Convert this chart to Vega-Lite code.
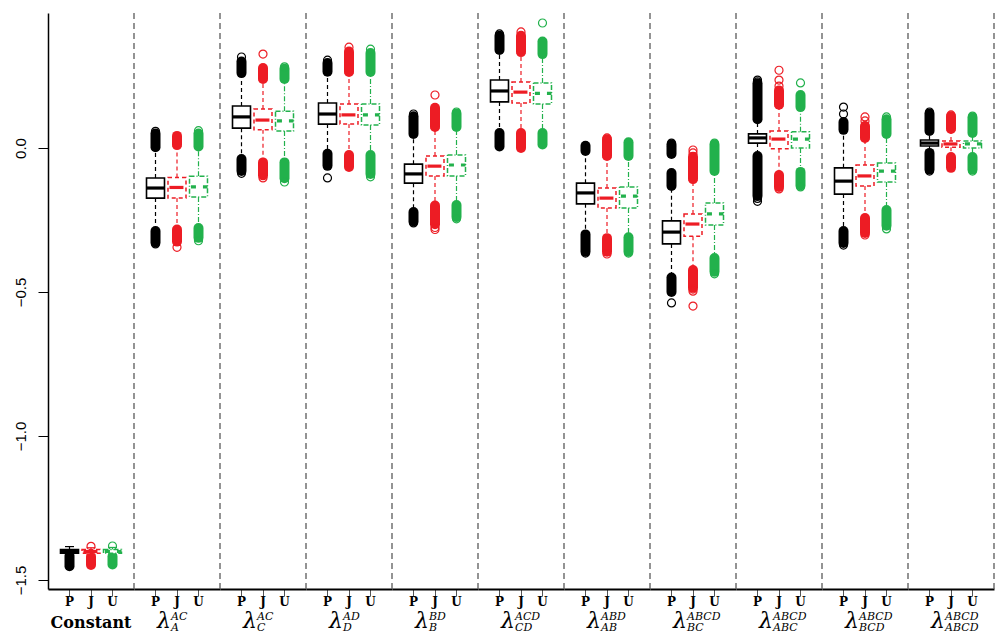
{
  "$schema": "https://vega.github.io/schema/vega-lite/v6.json",
  "background": "white",
  "padding": {"left": 13, "top": 12, "right": 0, "bottom": 0},
  "data": {"values": [
    {"k":"n","g":"Constant","name":"Constant"},
    {"k":"l","g":"A|AC","sup":"AC","sub":"A"},
    {"k":"l","g":"C|AC","sup":"AC","sub":"C"},
    {"k":"l","g":"D|AD","sup":"AD","sub":"D"},
    {"k":"l","g":"B|BD","sup":"BD","sub":"B"},
    {"k":"l","g":"CD|ACD","sup":"ACD","sub":"CD"},
    {"k":"l","g":"AB|ABD","sup":"ABD","sub":"AB"},
    {"k":"l","g":"BC|ABCD","sup":"ABCD","sub":"BC"},
    {"k":"l","g":"ABC|ABCD","sup":"ABCD","sub":"ABC"},
    {"k":"l","g":"BCD|ABCD","sup":"ABCD","sub":"BCD"},
    {"k":"l","g":"ABCD|ABCD","sup":"ABCD","sub":"ABCD"},

    {"k":"b","g":"Constant","m":"P","q1":-1.407,"med":-1.401,"q3":-1.394,"lo":-1.412,"hi":-1.384},
    {"k":"b","g":"Constant","m":"J","q1":-1.407,"med":-1.401,"q3":-1.394,"lo":-1.412,"hi":-1.388},
    {"k":"b","g":"Constant","m":"U","q1":-1.407,"med":-1.401,"q3":-1.394,"lo":-1.412,"hi":-1.387},
    {"k":"r","g":"Constant","m":"P","a":-1.416,"b":-1.452},
    {"k":"r","g":"Constant","m":"J","a":-1.418,"b":-1.448},
    {"k":"r","g":"Constant","m":"U","a":-1.418,"b":-1.446},
    {"k":"p","g":"Constant","m":"J","v":-1.383},
    {"k":"p","g":"Constant","m":"U","v":-1.382},

    {"k":"b","g":"A|AC","m":"P","q1":-0.174,"med":-0.139,"q3":-0.104,"lo":-0.283,"hi":-0.002},
    {"k":"b","g":"A|AC","m":"J","q1":-0.174,"med":-0.137,"q3":-0.102,"lo":-0.278,"hi":0.006},
    {"k":"b","g":"A|AC","m":"U","q1":-0.170,"med":-0.135,"q3":-0.098,"lo":-0.274,"hi":0.001},
    {"k":"r","g":"A|AC","m":"P","a":0.003,"b":0.05},
    {"k":"r","g":"A|AC","m":"P","a":-0.288,"b":-0.328},
    {"k":"r","g":"A|AC","m":"J","a":0.01,"b":0.042},
    {"k":"r","g":"A|AC","m":"J","a":-0.283,"b":-0.325},
    {"k":"r","g":"A|AC","m":"U","a":0.005,"b":0.05},
    {"k":"r","g":"A|AC","m":"U","a":-0.278,"b":-0.312},
    {"k":"p","g":"A|AC","m":"P","v":0.058},
    {"k":"p","g":"A|AC","m":"P","v":-0.333},
    {"k":"p","g":"A|AC","m":"J","v":-0.345},
    {"k":"p","g":"A|AC","m":"U","v":0.06},
    {"k":"p","g":"A|AC","m":"U","v":-0.322},

    {"k":"b","g":"C|AC","m":"P","q1":0.069,"med":0.108,"q3":0.146,"lo":-0.034,"hi":0.256},
    {"k":"b","g":"C|AC","m":"J","q1":0.063,"med":0.097,"q3":0.135,"lo":-0.046,"hi":0.236},
    {"k":"b","g":"C|AC","m":"U","q1":0.059,"med":0.094,"q3":0.128,"lo":-0.046,"hi":0.236},
    {"k":"r","g":"C|AC","m":"P","a":0.26,"b":0.30},
    {"k":"r","g":"C|AC","m":"P","a":-0.038,"b":-0.08},
    {"k":"r","g":"C|AC","m":"J","a":0.24,"b":0.278},
    {"k":"r","g":"C|AC","m":"J","a":-0.05,"b":-0.095},
    {"k":"r","g":"C|AC","m":"U","a":0.24,"b":0.275},
    {"k":"r","g":"C|AC","m":"U","a":-0.05,"b":-0.105},
    {"k":"p","g":"C|AC","m":"P","v":0.316},
    {"k":"p","g":"C|AC","m":"P","v":-0.088},
    {"k":"p","g":"C|AC","m":"J","v":0.326},
    {"k":"p","g":"C|AC","m":"J","v":-0.104},
    {"k":"p","g":"C|AC","m":"U","v":0.282},
    {"k":"p","g":"C|AC","m":"U","v":-0.118},

    {"k":"b","g":"D|AD","m":"P","q1":0.083,"med":0.118,"q3":0.156,"lo":-0.016,"hi":0.261},
    {"k":"b","g":"D|AD","m":"J","q1":0.083,"med":0.115,"q3":0.153,"lo":-0.02,"hi":0.26},
    {"k":"b","g":"D|AD","m":"U","q1":0.080,"med":0.115,"q3":0.153,"lo":-0.02,"hi":0.26},
    {"k":"r","g":"D|AD","m":"P","a":0.265,"b":0.295},
    {"k":"r","g":"D|AD","m":"P","a":-0.02,"b":-0.062},
    {"k":"r","g":"D|AD","m":"J","a":0.264,"b":0.335},
    {"k":"r","g":"D|AD","m":"J","a":-0.024,"b":-0.066},
    {"k":"r","g":"D|AD","m":"U","a":0.264,"b":0.33},
    {"k":"r","g":"D|AD","m":"U","a":-0.024,"b":-0.09},
    {"k":"p","g":"D|AD","m":"P","v":0.305},
    {"k":"p","g":"D|AD","m":"P","v":-0.104},
    {"k":"p","g":"D|AD","m":"J","v":0.35},
    {"k":"p","g":"D|AD","m":"U","v":0.343},
    {"k":"p","g":"D|AD","m":"U","v":-0.1},

    {"k":"b","g":"B|BD","m":"P","q1":-0.122,"med":-0.090,"q3":-0.056,"lo":-0.218,"hi":0.045},
    {"k":"b","g":"B|BD","m":"J","q1":-0.097,"med":-0.063,"q3":-0.028,"lo":-0.196,"hi":0.069},
    {"k":"b","g":"B|BD","m":"U","q1":-0.097,"med":-0.059,"q3":-0.024,"lo":-0.194,"hi":0.069},
    {"k":"r","g":"B|BD","m":"P","a":0.049,"b":0.11},
    {"k":"r","g":"B|BD","m":"P","a":-0.222,"b":-0.255},
    {"k":"r","g":"B|BD","m":"J","a":0.073,"b":0.14},
    {"k":"r","g":"B|BD","m":"J","a":-0.2,"b":-0.265},
    {"k":"r","g":"B|BD","m":"U","a":0.073,"b":0.12},
    {"k":"r","g":"B|BD","m":"U","a":-0.198,"b":-0.24},
    {"k":"p","g":"B|BD","m":"P","v":0.118},
    {"k":"p","g":"B|BD","m":"P","v":-0.26},
    {"k":"p","g":"B|BD","m":"J","v":0.184},
    {"k":"p","g":"B|BD","m":"J","v":-0.276},
    {"k":"p","g":"B|BD","m":"J","v":-0.283},
    {"k":"p","g":"B|BD","m":"U","v":0.125},
    {"k":"p","g":"B|BD","m":"U","v":-0.246},

    {"k":"b","g":"CD|ACD","m":"P","q1":0.160,"med":0.198,"q3":0.236,"lo":0.056,"hi":0.336},
    {"k":"b","g":"CD|ACD","m":"J","q1":0.156,"med":0.194,"q3":0.229,"lo":0.056,"hi":0.329},
    {"k":"b","g":"CD|ACD","m":"U","q1":0.153,"med":0.190,"q3":0.226,"lo":0.056,"hi":0.322},
    {"k":"r","g":"CD|ACD","m":"P","a":0.34,"b":0.39},
    {"k":"r","g":"CD|ACD","m":"P","a":0.052,"b":0.005},
    {"k":"r","g":"CD|ACD","m":"J","a":0.333,"b":0.39},
    {"k":"r","g":"CD|ACD","m":"J","a":0.052,"b":0.0},
    {"k":"r","g":"CD|ACD","m":"U","a":0.326,"b":0.37},
    {"k":"r","g":"CD|ACD","m":"U","a":0.052,"b":0.012},
    {"k":"p","g":"CD|ACD","m":"P","v":0.396},
    {"k":"p","g":"CD|ACD","m":"J","v":0.403},
    {"k":"p","g":"CD|ACD","m":"U","v":0.434},

    {"k":"b","g":"AB|ABD","m":"P","q1":-0.194,"med":-0.156,"q3":-0.122,"lo":-0.296,"hi":-0.014},
    {"k":"b","g":"AB|ABD","m":"J","q1":-0.208,"med":-0.174,"q3":-0.139,"lo":-0.309,"hi":-0.032},
    {"k":"b","g":"AB|ABD","m":"U","q1":-0.208,"med":-0.167,"q3":-0.135,"lo":-0.306,"hi":-0.032},
    {"k":"r","g":"AB|ABD","m":"P","a":-0.01,"b":0.008},
    {"k":"r","g":"AB|ABD","m":"P","a":-0.3,"b":-0.36},
    {"k":"r","g":"AB|ABD","m":"J","a":-0.028,"b":0.03},
    {"k":"r","g":"AB|ABD","m":"J","a":-0.313,"b":-0.36},
    {"k":"r","g":"AB|ABD","m":"U","a":-0.028,"b":0.02},
    {"k":"r","g":"AB|ABD","m":"U","a":-0.31,"b":-0.36},
    {"k":"p","g":"AB|ABD","m":"P","v":-0.365},
    {"k":"p","g":"AB|ABD","m":"J","v":0.035},
    {"k":"p","g":"AB|ABD","m":"J","v":-0.368},
    {"k":"p","g":"AB|ABD","m":"U","v":-0.365},

    {"k":"b","g":"BC|ABCD","m":"P","q1":-0.333,"med":-0.292,"q3":-0.253,"lo":-0.446,"hi":-0.136},
    {"k":"b","g":"BC|ABCD","m":"J","q1":-0.306,"med":-0.264,"q3":-0.229,"lo":-0.42,"hi":-0.112},
    {"k":"b","g":"BC|ABCD","m":"U","q1":-0.267,"med":-0.229,"q3":-0.191,"lo":-0.378,"hi":-0.084},
    {"k":"r","g":"BC|ABCD","m":"P","a":-0.132,"b":-0.087},
    {"k":"r","g":"BC|ABCD","m":"P","a":-0.021,"b":0.012},
    {"k":"r","g":"BC|ABCD","m":"P","a":-0.45,"b":-0.5},
    {"k":"r","g":"BC|ABCD","m":"J","a":-0.108,"b":-0.03},
    {"k":"r","g":"BC|ABCD","m":"J","a":-0.424,"b":-0.485},
    {"k":"r","g":"BC|ABCD","m":"U","a":-0.08,"b":0.012},
    {"k":"r","g":"BC|ABCD","m":"U","a":-0.382,"b":-0.43},
    {"k":"p","g":"BC|ABCD","m":"P","v":0.017},
    {"k":"p","g":"BC|ABCD","m":"P","v":0.005},
    {"k":"p","g":"BC|ABCD","m":"P","v":-0.538},
    {"k":"p","g":"BC|ABCD","m":"J","v":-0.007},
    {"k":"p","g":"BC|ABCD","m":"J","v":-0.017},
    {"k":"p","g":"BC|ABCD","m":"J","v":-0.49},
    {"k":"p","g":"BC|ABCD","m":"J","v":-0.497},
    {"k":"p","g":"BC|ABCD","m":"J","v":-0.549},
    {"k":"p","g":"BC|ABCD","m":"U","v":0.017},
    {"k":"p","g":"BC|ABCD","m":"U","v":-0.437},

    {"k":"b","g":"ABC|ABCD","m":"P","q1":0.017,"med":0.035,"q3":0.049,"lo":-0.024,"hi":0.096},
    {"k":"b","g":"ABC|ABCD","m":"J","q1":-0.003,"med":0.031,"q3":0.059,"lo":-0.09,"hi":0.146},
    {"k":"b","g":"ABC|ABCD","m":"U","q1":0.000,"med":0.031,"q3":0.056,"lo":-0.079,"hi":0.138},
    {"k":"r","g":"ABC|ABCD","m":"P","a":0.1,"b":0.225},
    {"k":"r","g":"ABC|ABCD","m":"P","a":-0.028,"b":-0.167},
    {"k":"r","g":"ABC|ABCD","m":"J","a":0.15,"b":0.2},
    {"k":"r","g":"ABC|ABCD","m":"J","a":-0.094,"b":-0.135},
    {"k":"r","g":"ABC|ABCD","m":"U","a":0.142,"b":0.184},
    {"k":"r","g":"ABC|ABCD","m":"U","a":-0.083,"b":-0.13},
    {"k":"p","g":"ABC|ABCD","m":"P","v":0.236},
    {"k":"p","g":"ABC|ABCD","m":"P","v":0.23},
    {"k":"p","g":"ABC|ABCD","m":"P","v":-0.175},
    {"k":"p","g":"ABC|ABCD","m":"P","v":-0.185},
    {"k":"p","g":"ABC|ABCD","m":"J","v":0.215},
    {"k":"p","g":"ABC|ABCD","m":"J","v":0.236},
    {"k":"p","g":"ABC|ABCD","m":"J","v":0.27},
    {"k":"p","g":"ABC|ABCD","m":"J","v":-0.142},
    {"k":"p","g":"ABC|ABCD","m":"U","v":0.226},
    {"k":"p","g":"ABC|ABCD","m":"U","v":-0.135},

    {"k":"b","g":"BCD|ABCD","m":"P","q1":-0.160,"med":-0.115,"q3":-0.069,"lo":-0.284,"hi":0.059},
    {"k":"b","g":"BCD|ABCD","m":"J","q1":-0.132,"med":-0.097,"q3":-0.059,"lo":-0.239,"hi":0.031},
    {"k":"b","g":"BCD|ABCD","m":"U","q1":-0.118,"med":-0.080,"q3":-0.052,"lo":-0.211,"hi":0.045},
    {"k":"r","g":"BCD|ABCD","m":"P","a":0.063,"b":0.09},
    {"k":"r","g":"BCD|ABCD","m":"P","a":-0.288,"b":-0.33},
    {"k":"r","g":"BCD|ABCD","m":"J","a":0.035,"b":0.076},
    {"k":"r","g":"BCD|ABCD","m":"J","a":-0.243,"b":-0.295},
    {"k":"r","g":"BCD|ABCD","m":"U","a":0.049,"b":0.1},
    {"k":"r","g":"BCD|ABCD","m":"U","a":-0.215,"b":-0.27},
    {"k":"p","g":"BCD|ABCD","m":"P","v":0.118},
    {"k":"p","g":"BCD|ABCD","m":"P","v":0.142},
    {"k":"p","g":"BCD|ABCD","m":"P","v":-0.337},
    {"k":"p","g":"BCD|ABCD","m":"J","v":0.094},
    {"k":"p","g":"BCD|ABCD","m":"J","v":0.108},
    {"k":"p","g":"BCD|ABCD","m":"J","v":-0.302},
    {"k":"p","g":"BCD|ABCD","m":"U","v":0.108},
    {"k":"p","g":"BCD|ABCD","m":"U","v":-0.281},

    {"k":"b","g":"ABCD|ABCD","m":"P","q1":0.007,"med":0.017,"q3":0.028,"lo":-0.013,"hi":0.055},
    {"k":"b","g":"ABCD|ABCD","m":"J","q1":0.003,"med":0.014,"q3":0.024,"lo":-0.027,"hi":0.062},
    {"k":"b","g":"ABCD|ABCD","m":"U","q1":0.000,"med":0.014,"q3":0.024,"lo":-0.027,"hi":0.048},
    {"k":"r","g":"ABCD|ABCD","m":"P","a":0.059,"b":0.12},
    {"k":"r","g":"ABCD|ABCD","m":"P","a":-0.017,"b":-0.075},
    {"k":"r","g":"ABCD|ABCD","m":"J","a":0.066,"b":0.11},
    {"k":"r","g":"ABCD|ABCD","m":"J","a":-0.031,"b":-0.069},
    {"k":"r","g":"ABCD|ABCD","m":"U","a":0.052,"b":0.106},
    {"k":"r","g":"ABCD|ABCD","m":"U","a":-0.031,"b":-0.075},
    {"k":"p","g":"ABCD|ABCD","m":"P","v":0.125},
    {"k":"p","g":"ABCD|ABCD","m":"P","v":-0.08},
    {"k":"p","g":"ABCD|ABCD","m":"J","v":0.115},
    {"k":"p","g":"ABCD|ABCD","m":"U","v":0.111},
    {"k":"p","g":"ABCD|ABCD","m":"U","v":-0.08}
  ]},
  "facet": {"column": {"field": "g", "type": "nominal",
    "sort": ["Constant","A|AC","C|AC","D|AD","B|BD","CD|ACD","AB|ABD","BC|ABCD","ABC|ABCD","BCD|ABCD","ABCD|ABCD"],
    "header": {"title": null, "labels": false}}},
  "spacing": 0,
  "bounds": "flush",
  "spec": {
    "width": 86,
    "height": 576,
    "layer": [
      {
        "transform": [{"filter": "datum.k === 'b' && datum.m === 'P'"}],
        "mark": {"type": "rule", "strokeDash": [6, 4], "color": "#5a5a5a", "strokeWidth": 1.3},
        "encoding": {"x": {"value": "width"}}
      },
      {
        "transform": [{"filter": "datum.k === 'b'"}],
        "mark": {"type": "rule", "strokeWidth": 1.2},
        "encoding": {
          "x": {"field": "m", "type": "nominal", "bandPosition": 0.5,
                "scale": {"type": "band", "domain": ["P","J","U"], "paddingInner": 0.163, "paddingOuter": 0.5815},
                "axis": {"title": null, "labelAngle": 0, "labelFont": "DejaVu Serif", "labelFontWeight": "bold", "labelFontSize": 12, "labelColor": "black", "tickSize": 7, "tickColor": "#555555", "domainColor": "black", "domainWidth": 2, "labelPadding": 0, "grid": false}},
          "y": {"field": "q3", "type": "quantitative",
                "scale": {"domain": [-1.53125, 0.46875], "nice": false, "zero": false},
                "axis": {"title": null, "values": [-1.5, -1, -0.5, 0], "format": ".1f", "labelAngle": -90, "labelAlign": "center", "labelBaseline": "bottom", "labelFont": "Liberation Sans", "labelFontSize": 15, "labelColor": "black", "tickSize": 10, "tickColor": "black", "domainColor": "black", "domainWidth": 1.5, "labelPadding": 10, "grid": false}},
          "y2": {"field": "hi"},
          "color": {"field": "m", "type": "nominal", "scale": {"domain": ["P","J","U"], "range": ["#000000","#ED1C24","#22B14C"]}, "legend": null},
          "strokeDash": {"field": "m", "type": "nominal", "scale": {"domain": ["P","J","U"], "range": [[4,3],[4,3],[5,2,1,2]]}, "legend": null}
        }
      },
      {
        "transform": [{"filter": "datum.k === 'b'"}],
        "mark": {"type": "rule", "strokeWidth": 1.2},
        "encoding": {
          "x": {"field": "m", "type": "nominal", "bandPosition": 0.5},
          "y": {"field": "q1", "type": "quantitative"},
          "y2": {"field": "lo"},
          "color": {"field": "m", "type": "nominal", "legend": null},
          "strokeDash": {"field": "m", "type": "nominal", "legend": null}
        }
      },
      {
        "transform": [{"filter": "datum.k === 'b'"}],
        "mark": {"type": "rule", "strokeWidth": 1.2},
        "encoding": {
          "x": {"field": "m", "type": "nominal", "bandPosition": 0.25},
          "x2": {"field": "m", "bandPosition": 0.75},
          "y": {"field": "hi", "type": "quantitative"},
          "color": {"field": "m", "type": "nominal", "legend": null}
        }
      },
      {
        "transform": [{"filter": "datum.k === 'r'"}],
        "mark": {"type": "rule", "strokeWidth": 10, "strokeCap": "round"},
        "encoding": {
          "x": {"field": "m", "type": "nominal", "bandPosition": 0.5},
          "y": {"field": "a", "type": "quantitative"},
          "y2": {"field": "b"},
          "color": {"field": "m", "type": "nominal", "legend": null}
        }
      },
      {
        "transform": [{"filter": "datum.k === 'p'"}],
        "mark": {"type": "point", "filled": false, "size": 64, "strokeWidth": 1.2, "opacity": 1},
        "encoding": {
          "x": {"field": "m", "type": "nominal", "bandPosition": 0.5},
          "y": {"field": "v", "type": "quantitative"},
          "color": {"field": "m", "type": "nominal", "legend": null}
        }
      },
      {
        "transform": [{"filter": "datum.k === 'b' && datum.m === 'P'"}],
        "mark": {"type": "bar", "fill": "white", "stroke": "#000000", "strokeWidth": 1.6},
        "encoding": {
          "x": {"field": "m", "type": "nominal"},
          "y": {"field": "q1", "type": "quantitative"},
          "y2": {"field": "q3"}
        }
      },
      {
        "transform": [{"filter": "datum.k === 'b' && datum.m === 'J'"}],
        "mark": {"type": "bar", "fill": "white", "stroke": "#ED1C24", "strokeWidth": 1.5, "strokeDash": [4, 3]},
        "encoding": {
          "x": {"field": "m", "type": "nominal"},
          "y": {"field": "q1", "type": "quantitative"},
          "y2": {"field": "q3"}
        }
      },
      {
        "transform": [{"filter": "datum.k === 'b' && datum.m === 'U'"}],
        "mark": {"type": "bar", "fill": "white", "stroke": "#22B14C", "strokeWidth": 1.5, "strokeDash": [5, 2, 1, 2]},
        "encoding": {
          "x": {"field": "m", "type": "nominal"},
          "y": {"field": "q1", "type": "quantitative"},
          "y2": {"field": "q3"}
        }
      },
      {
        "transform": [{"filter": "datum.k === 'b' && datum.m === 'P'"}],
        "mark": {"type": "rule", "strokeWidth": 3.2, "color": "#000000"},
        "encoding": {
          "x": {"field": "m", "type": "nominal", "bandPosition": 0},
          "x2": {"field": "m", "bandPosition": 1},
          "y": {"field": "med", "type": "quantitative"}
        }
      },
      {
        "transform": [{"filter": "datum.k === 'b' && datum.m === 'J'"}],
        "mark": {"type": "rule", "strokeWidth": 3.2, "color": "#ED1C24", "strokeDash": [14, 6]},
        "encoding": {
          "x": {"field": "m", "type": "nominal", "bandPosition": 0.08},
          "x2": {"field": "m", "bandPosition": 1},
          "y": {"field": "med", "type": "quantitative"}
        }
      },
      {
        "transform": [{"filter": "datum.k === 'b' && datum.m === 'U'"}],
        "mark": {"type": "rule", "strokeWidth": 3.2, "color": "#22B14C", "strokeDash": [5, 7, 6, 2]},
        "encoding": {
          "x": {"field": "m", "type": "nominal", "bandPosition": 0.08},
          "x2": {"field": "m", "bandPosition": 1},
          "y": {"field": "med", "type": "quantitative"}
        }
      },
      {
        "transform": [{"filter": "datum.k === 'n'"}],
        "mark": {"type": "text", "font": "DejaVu Serif", "fontWeight": "bold", "fontSize": 16, "align": "center", "baseline": "alphabetic", "color": "black"},
        "encoding": {
          "x": {"datum": "J"},
          "y": {"datum": -1.667},
          "text": {"field": "name"}
        }
      },
      {
        "transform": [{"filter": "datum.k === 'l'"}],
        "mark": {"type": "text", "text": "λ", "font": "DejaVu Serif", "fontStyle": "italic", "fontSize": 22, "align": "right", "baseline": "alphabetic", "dx": -6, "color": "black"},
        "encoding": {
          "x": {"datum": "J"},
          "y": {"datum": -1.667}
        }
      },
      {
        "transform": [{"filter": "datum.k === 'l'"}],
        "mark": {"type": "text", "font": "DejaVu Serif", "fontStyle": "italic", "fontSize": 11, "align": "left", "baseline": "alphabetic", "dx": -6, "dy": -8, "color": "black"},
        "encoding": {
          "x": {"datum": "J"},
          "y": {"datum": -1.667},
          "text": {"field": "sup"}
        }
      },
      {
        "transform": [{"filter": "datum.k === 'l'"}],
        "mark": {"type": "text", "font": "DejaVu Serif", "fontStyle": "italic", "fontSize": 11, "align": "left", "baseline": "alphabetic", "dx": -6, "dy": 3, "color": "black"},
        "encoding": {
          "x": {"datum": "J"},
          "y": {"datum": -1.667},
          "text": {"field": "sub"}
        }
      }
    ]
  },
  "config": {
    "view": {"stroke": null}
  }
}
